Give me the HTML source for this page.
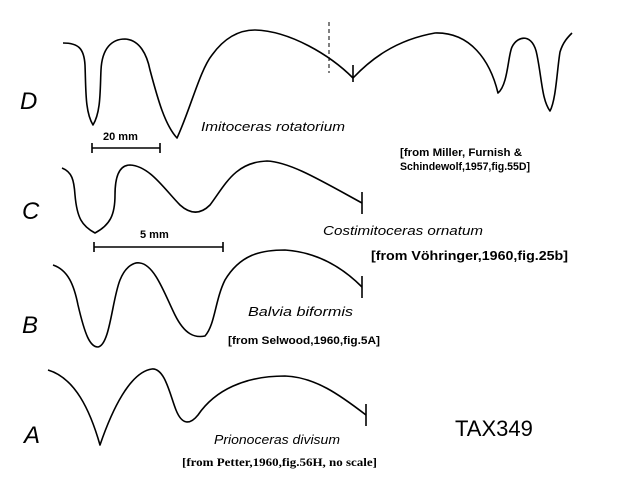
<!DOCTYPE html>
<html><head><meta charset="utf-8"><style>
body{margin:0;background:#fff;}
svg{display:block}
text{font-family:"Liberation Sans",sans-serif;fill:#000}
</style></head><body>
<svg width="619" height="499" viewBox="0 0 619 499" xmlns="http://www.w3.org/2000/svg">
<g fill="none" stroke="#000" stroke-width="1.6" stroke-linejoin="round">
<!-- D -->
<path d="M63,43 C78,43 84,48 85,65 C86,90 85,112 93,125 C101,112 100,90 101,70 C102,48 112,39 125,39 C140,40 147,55 150,70 C158,100 165,125 177,138 C190,110 200,70 212,55 C225,37 240,30 255,30 C290,31 330,55 353,78 C370,60 395,40 435,33 C470,32 490,60 498,93 C508,85 508,55 512,47 C518,35 533,33 537,55 C542,80 542,100 550,111 C556,100 557,70 560,52 C563,42 568,37 572,33"/>
<line x1="353" y1="65" x2="353" y2="82"/>
<line x1="329" y1="22" x2="329" y2="73" stroke-width="1" stroke-dasharray="4,3"/>
<line x1="92" y1="148" x2="160" y2="148"/><line x1="92" y1="143" x2="92" y2="153"/><line x1="160" y1="143" x2="160" y2="153"/>
<!-- C -->
<path d="M62,168 C72,172 74,180 75,195 C77,218 82,226 95,233 C110,225 115,215 115,195 C115,175 120,165 130,165 C150,166 165,190 180,205 C190,214 200,215 210,205 C225,185 235,162 267,161 C290,162 320,180 362,203"/>
<line x1="362" y1="192" x2="362" y2="214"/>
<line x1="94" y1="247" x2="223" y2="247"/><line x1="94" y1="242" x2="94" y2="252"/><line x1="223" y1="242" x2="223" y2="252"/>
<!-- B -->
<path d="M53,265 C68,270 74,285 78,305 C85,335 90,347 98,347 C110,345 112,300 120,280 C126,265 135,262 140,263 C155,265 165,295 175,315 C185,335 195,338 205,336 C215,325 215,300 225,280 C240,255 260,250 285,250 C315,252 340,265 362,287"/>
<line x1="362" y1="276" x2="362" y2="298"/>
<!-- A -->
<path d="M48,370 C75,378 90,410 100,445 C112,410 130,372 152,369 C165,368 170,395 176,410 C182,425 190,425 198,415 C215,390 245,376 285,376 C315,377 340,395 366,415"/>
<line x1="366" y1="404" x2="366" y2="426"/>
</g>
<g font-style="italic">
<text x="20" y="109" font-size="24">D</text>
<text x="22" y="219" font-size="24">C</text>
<text x="22" y="333" font-size="24">B</text>
<text x="24" y="443" font-size="24">A</text>
<text x="201" y="131" font-size="12.5" textLength="144" lengthAdjust="spacingAndGlyphs">Imitoceras rotatorium</text>
<text x="323" y="235" font-size="12.5" textLength="160" lengthAdjust="spacingAndGlyphs">Costimitoceras ornatum</text>
<text x="248" y="316" font-size="12.5" textLength="105" lengthAdjust="spacingAndGlyphs">Balvia biformis</text>
<text x="214" y="444" font-size="12.5" textLength="126" lengthAdjust="spacingAndGlyphs">Prionoceras divisum</text>
</g>
<text x="400" y="156" font-size="11" font-weight="bold" textLength="122" lengthAdjust="spacingAndGlyphs">[from Miller, Furnish &amp;</text>
<text x="400" y="170" font-size="11" font-weight="bold" textLength="130" lengthAdjust="spacingAndGlyphs">Schindewolf,1957,fig.55D]</text>
<text x="371" y="260" font-size="13" font-weight="bold" textLength="197" lengthAdjust="spacingAndGlyphs">[from Vöhringer,1960,fig.25b]</text>
<text x="228" y="344" font-size="11" font-weight="bold" textLength="152" lengthAdjust="spacingAndGlyphs">[from Selwood,1960,fig.5A]</text>
<text x="182" y="466" font-size="12" font-weight="bold" textLength="195" lengthAdjust="spacingAndGlyphs" style="font-family:'Liberation Serif',serif">[from Petter,1960,fig.56H, no scale]</text>
<text x="103" y="140" font-size="11" font-weight="bold">20 mm</text>
<text x="140" y="238" font-size="11" font-weight="bold">5 mm</text>
<text x="455" y="436" font-size="22">TAX349</text>
</svg>
</body></html>
